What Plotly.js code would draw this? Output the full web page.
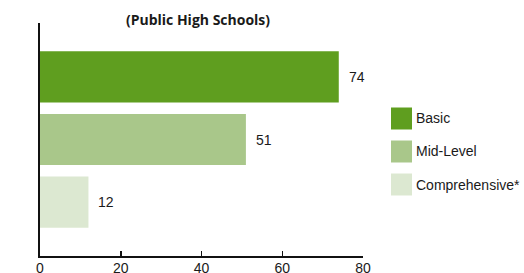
<!DOCTYPE html>
<html>
<head>
<meta charset="utf-8">
<script src="https://cdn.plot.ly/plotly-3.0.1.min.js"></script>
<style>html,body{margin:0;padding:0;background:#fff;}#chart{width:524px;height:273px;}</style>
</head>
<body>
<div id="chart"></div>
<script>
var categories = ["Basic", "Mid-Level", "Comprehensive*"];
var values = [74, 51, 12];
var colors = ["#5f9e1f", "#a9c78a", "#dce8d1"];
var xTicks = [0, 20, 40, 60, 80];
var subtitle = "(Public High Schools)";

var trace = {
  type: "bar",
  orientation: "h",
  x: values,
  y: categories,
  marker: {color: colors, line: {width: 0}},
  hoverinfo: "none",
  showlegend: false
};

var annotations = values.map(function (v, i) {
  return {
    x: v, y: categories[i], xref: "x", yref: "y",
    text: String(v), showarrow: false, xanchor: "left", yanchor: "middle",
    xshift: 8, font: {family: "Liberation Sans, Arial, sans-serif", size: 14, color: "#1a1a1a"}
  };
});

var shapes = [];
var W = 524, H = 273;
categories.forEach(function (c, i) {
  var top = 107.5 + i * 33;
  shapes.push({
    type: "rect", xref: "paper", yref: "paper",
    x0: (391 - 40) / 323, x1: (412 - 40) / 323,
    y0: (256 - (top + 22)) / 233, y1: (256 - top) / 233,
    fillcolor: colors[i], line: {width: 0}
  });
  annotations.push({
    xref: "paper", yref: "paper",
    x: (414 - 40) / 323, y: (256 - (top + 11)) / 233,
    text: c, showarrow: false, xanchor: "left", yanchor: "middle",
    font: {family: "Liberation Sans, Arial, sans-serif", size: 14, color: "#1a1a1a"}
  });
});

var layout = {
  width: W, height: H,
  margin: {l: 40, r: 161, t: 23, b: 17, pad: 0},
  paper_bgcolor: "#fff", plot_bgcolor: "#fff",
  title: {
    text: "<b>" + subtitle + "</b>",
    x: 198 / W, xanchor: "center", xref: "container",
    y: 1 - 20 / H, yanchor: "middle", yref: "container",
    font: {family: "Open Sans, Noto Sans, sans-serif", size: 14, color: "#1a1a1a"}
  },
  bargap: 0.184,
  xaxis: {
    range: [0, 80], tickvals: xTicks, ticktext: xTicks.map(String),
    showgrid: false, zeroline: false, showline: true, linecolor: "#111", linewidth: 2,
    ticks: "inside", ticklen: 5, tickwidth: 1.5, tickcolor: "#111",
    ticklabelstandoff: -2,
    tickfont: {family: "Liberation Sans, Arial, sans-serif", size: 14, color: "#1a1a1a"},
    fixedrange: true
  },
  yaxis: {
    autorange: false, range: [2.86, -0.86], type: "category",
    categoryorder: "array", categoryarray: categories,
    showticklabels: false, ticks: "", showgrid: false, zeroline: false,
    showline: true, linecolor: "#111", linewidth: 2, fixedrange: true
  },
  shapes: shapes,
  annotations: annotations,
  showlegend: false
};

Plotly.newPlot("chart", [trace], layout, {displayModeBar: false, staticPlot: true});
</script>
</body>
</html>
